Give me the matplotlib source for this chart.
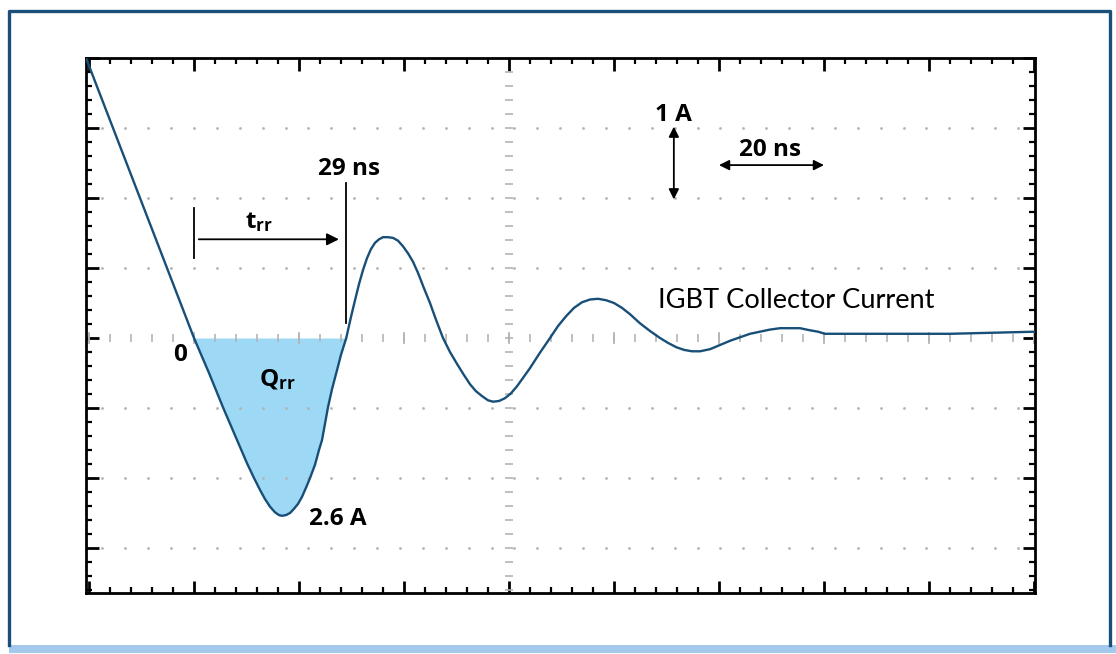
import matplotlib
matplotlib.use("Agg")
import matplotlib.pyplot as plt
import numpy as np
from matplotlib.ticker import MultipleLocator, NullFormatter
from matplotlib.lines import Line2D
from matplotlib.patches import Rectangle

plt.rcParams['font.family'] = ['Lato', 'DejaVu Sans']
plt.rcParams['mathtext.fontset'] = 'custom'
plt.rcParams['mathtext.rm'] = 'Open Sans'
plt.rcParams['mathtext.bf'] = 'Open Sans:bold'

# IGBT collector current during diode reverse recovery
time_ns = [-20.57, 0.0, 2.86, 5.52, 7.81, 10.10, 11.43, 12.57, 13.52, 14.48,
           15.43, 16.19, 16.76, 17.52, 18.29, 19.05, 19.81, 20.57, 21.33, 22.10,
           23.05, 23.81, 24.38, 25.52, 26.29, 27.24, 28.0, 29.0, 29.90, 30.67,
           31.43, 32.19, 32.95, 33.71, 34.48, 35.24, 36.0, 36.95, 37.90, 38.86,
           39.81, 40.76, 41.71, 42.67, 43.81, 44.95, 46.10, 47.43, 48.76, 50.10,
           51.43, 52.57, 53.71, 54.86, 56.0, 56.95, 58.10, 59.24, 60.38, 61.52,
           62.67, 64.0, 65.90, 67.81, 69.33, 70.86, 72.38, 73.90, 75.43, 76.95,
           78.48, 80.0, 81.52, 83.05, 84.95, 86.86, 88.76, 90.29, 91.81, 93.33,
           94.86, 96.38, 98.29, 100.19, 102.10, 104.0, 105.90, 107.81, 109.71, 111.62,
           113.52, 115.43, 117.33, 118.86, 120.19, 123.05, 128.76, 144.0, 160.19]
current_a = [4.00, 0.0, -0.50, -0.99, -1.39, -1.79, -2.00, -2.17, -2.30, -2.41,
             -2.49, -2.53, -2.54, -2.53, -2.50, -2.44, -2.37, -2.27, -2.14, -2.00,
             -1.81, -1.60, -1.46, -0.99, -0.73, -0.46, -0.24, 0.0, 0.30, 0.54,
             0.77, 0.97, 1.14, 1.27, 1.36, 1.41, 1.44, 1.44, 1.43, 1.39,
             1.31, 1.21, 1.09, 0.93, 0.71, 0.50, 0.26, 0.0, -0.20, -0.37,
             -0.53, -0.66, -0.76, -0.83, -0.89, -0.91, -0.90, -0.86, -0.79, -0.69,
             -0.57, -0.43, -0.21, 0.0, 0.17, 0.31, 0.43, 0.51, 0.55, 0.56,
             0.54, 0.50, 0.43, 0.34, 0.21, 0.10, 0.0, -0.07, -0.13, -0.17,
             -0.19, -0.19, -0.16, -0.10, -0.04, 0.01, 0.06, 0.09, 0.12, 0.14,
             0.14, 0.14, 0.11, 0.09, 0.06, 0.06, 0.06, 0.06, 0.09]

trr_ns = 29.0
peak_label = "2.6 A"
trace_label = "IGBT Collector Current"
volt_div = "1 A"
time_div = "20 ns"

trace_c = '#174f78'
fill_c = '#9dd9f5'
grat_c = '#b4b4b4'

fig = plt.figure(figsize=(11.16, 6.54), dpi=100)
W, H = 1116.0, 654.0

# outer frame
frame_c = '#1a4f7a'
fig.add_artist(Line2D([9/W, 9/W, 1110/W, 1110/W], [1-645/H, 1-11/H, 1-11/H, 1-645/H],
                      color=frame_c, lw=2.4, transform=fig.transFigure))
fig.add_artist(Rectangle((9/W, 1-653/H), 1-9/W, 8/H, facecolor='#a3c9ec',
                         edgecolor='none', transform=fig.transFigure))
fig.add_artist(Line2D([9/W, 1], [1-653.5/H, 1-653.5/H], color='#8a9aaa', lw=0.8,
                      transform=fig.transFigure))

ax = fig.add_axes([86/W, 1-593/H, (1035-86)/W, (593-58)/H])
ax.set_xlim(-20.57, 160.19)
ax.set_ylim(-3.643, 4.0)

for s in ax.spines.values():
    s.set_linewidth(2.0)
    s.set_color('black')
ax.xaxis.set_major_locator(MultipleLocator(20))
ax.xaxis.set_minor_locator(MultipleLocator(4))
ax.yaxis.set_major_locator(MultipleLocator(1))
ax.yaxis.set_minor_locator(MultipleLocator(0.2))
ax.xaxis.set_major_formatter(NullFormatter())
ax.yaxis.set_major_formatter(NullFormatter())
ax.tick_params(which='both', direction='in', top=True, right=True, color='black')
ax.tick_params(which='major', length=9, width=2.0)
ax.tick_params(which='minor', length=4.5, width=1.6)

# graticule dots
dx = np.arange(-4, 37) * 4.36
for gy in [-3, -2, -1, 1, 2, 3]:
    ax.plot(dx, np.full(dx.shape, gy), ls='none', marker='.', ms=2.0, color=grat_c)

# centre crosshair with small ticks
cx = np.arange(-20, 161, 4)
cx_major = cx[cx % 20 == 0]
ax.plot(cx, np.zeros(cx.shape), ls='none', marker='|', ms=6, mew=1.2, color=grat_c)
ax.plot(cx_major, np.zeros(cx_major.shape), ls='none', marker='|', ms=8, mew=1.2, color=grat_c)
cy = np.arange(-18, 21) * 0.2
ax.plot(np.full(cy.shape, 60), cy, ls='none', marker='_', ms=6, mew=1.2, color=grat_c)

# Qrr fill and trace
t = np.array(time_ns)
i = np.array(current_a)
ax.fill_between(t, i, 0, where=(t >= 0) & (t <= trr_ns), color=fill_c, lw=0)
ax.plot(t, i, color=trace_c, lw=1.7, solid_joinstyle='round', zorder=5)

# trr marker
ax.plot([0, 0], [1.14, 1.86], color='black', lw=1.3)
ax.plot([trr_ns, trr_ns], [0.21, 2.21], color='black', lw=1.3)
ax.annotate('', xy=(27.6, 1.41), xytext=(0.9, 1.41),
            arrowprops=dict(arrowstyle='-|>', color='black', lw=1.3,
                            mutation_scale=18, shrinkA=0, shrinkB=0))

# scale arrows
ax.annotate('', xy=(91.4, 1.98), xytext=(91.4, 3.02),
            arrowprops=dict(arrowstyle='<|-|>', color='black', lw=1.3,
                            mutation_scale=15, shrinkA=0, shrinkB=0))
ax.annotate('', xy=(100, 2.47), xytext=(120, 2.47),
            arrowprops=dict(arrowstyle='<|-|>', color='black', lw=1.3,
                            mutation_scale=15, shrinkA=0, shrinkB=0))

bold = dict(fontsize=17.5, fontweight='bold', color='black', ha='center', va='center',
            family=['Open Sans', 'DejaVu Sans'])
ax.text(29.6, 2.41, f'{trr_ns:.0f} ns', **bold)
ax.text(12.4, 1.66, r'$\mathbf{t_{rr}}$', **bold)
ax.text(15.8, -0.6, r'$\mathbf{Q_{rr}}$', **bold)
ax.text(-2.6, -0.24, '0', **bold)
ax.text(27.4, -2.59, peak_label, **bold)
ax.text(91.4, 3.18, volt_div, **bold)
ax.text(109.8, 2.69, time_div, **bold)
ax.text(88.3, 0.54, trace_label, fontsize=19.6, color='black', ha='left', va='center')

fig.savefig('out.png', dpi=100)
